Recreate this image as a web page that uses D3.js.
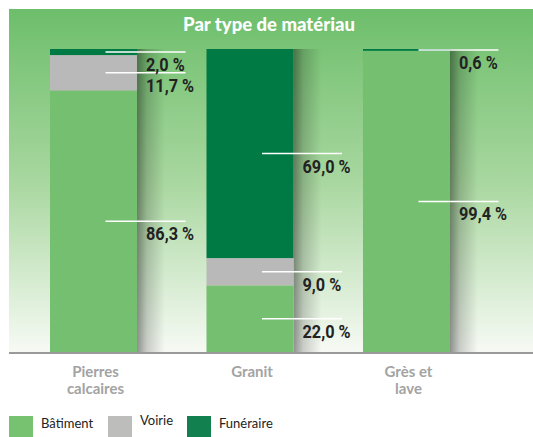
<!DOCTYPE html>
<html>
<head>
<meta charset="utf-8">
<script src="https://cdn.jsdelivr.net/npm/d3@7"></script>
<style>
  body { margin: 0; background: #fff; }
  .title { font-family: Lato, sans-serif; font-weight: 900; font-size: 18.5px; fill: #fff; }
  .cat { font-family: Lato, sans-serif; font-weight: 700; font-size: 15px; fill: #a3a3a3; }
  .val { font-family: Roboto, sans-serif; font-weight: 700; font-size: 18.5px; fill: #222; }
  .leg { font-family: Lato, sans-serif; font-size: 13px; fill: #222; }
</style>
</head>
<body>
<div id="chart"></div>
<script>
// data
const categories = ["Pierres calcaires", "Granit", "Grès et lave"];
const catLines = [["Pierres", "calcaires"], ["Granit"], ["Grès et", "lave"]];
const seriesNames = ["Bâtiment", "Voirie", "Funéraire"];
const batiment = [86.3, 22.0, 99.4];
const voirie = [11.7, 9.0, 0];
const funeraire = [2.0, 69.0, 0.6];

const colors = ["#74bf70", "#b8b9b8", "#007a45"];
const legendColors = ["#76c271", "#bdbdbc", "#138050"];

const W = 533, H = 437;
const svg = d3.select("#chart").append("svg")
  .attr("width", W).attr("height", H);

const defs = svg.append("defs");
const bg = defs.append("linearGradient").attr("id", "bg")
  .attr("x1", 0).attr("y1", 0).attr("x2", 0).attr("y2", 1);
bg.append("stop").attr("offset", "0%").attr("stop-color", "#6dbe6b");
bg.append("stop").attr("offset", "50%").attr("stop-color", "#a8d79f");
bg.append("stop").attr("offset", "100%").attr("stop-color", "#f7faf5");

const sh = defs.append("linearGradient").attr("id", "shadow")
  .attr("x1", 0).attr("y1", 0).attr("x2", 1).attr("y2", 0);
sh.append("stop").attr("offset", "0%").attr("stop-color", "#000").attr("stop-opacity", 0.42);
sh.append("stop").attr("offset", "35%").attr("stop-color", "#000").attr("stop-opacity", 0.18);
sh.append("stop").attr("offset", "100%").attr("stop-color", "#000").attr("stop-opacity", 0);

// panel
svg.append("rect")
  .attr("x", 9).attr("y", 9).attr("width", W - 9).attr("height", 344)
  .attr("fill", "url(#bg)");

svg.append("text").attr("class", "title")
  .attr("x", 269).attr("y", 31).attr("text-anchor", "middle")
  .text("Par type de matériau");

const x = d3.scaleBand().domain(categories).range([50, 450])
  .paddingInner(0.444).paddingOuter(0);
const y = d3.scaleLinear().domain([0, 100]).range([352, 49]);

// stack
const rows = categories.map((c, i) => ({
  cat: c, "Bâtiment": batiment[i], "Voirie": voirie[i], "Funéraire": funeraire[i]
}));
const stacked = d3.stack().keys(seriesNames)(rows);

// shadows to the right of each bar
svg.append("g").selectAll("rect").data(categories).join("rect")
  .attr("x", d => x(d) + x.bandwidth())
  .attr("y", y(100))
  .attr("width", 28)
  .attr("height", y(0) - y(100))
  .attr("fill", "url(#shadow)");

// bars
svg.append("g").selectAll("g").data(stacked).join("g")
  .attr("fill", (d, i) => colors[i])
  .selectAll("rect").data(d => d).join("rect")
    .attr("x", d => x(d.data.cat))
    .attr("y", d => y(d[1]))
    .attr("width", x.bandwidth())
    .attr("height", d => y(d[0]) - y(d[1]));

// baseline
svg.append("line")
  .attr("x1", 9).attr("x2", W).attr("y1", 353).attr("y2", 353)
  .attr("stroke", "#9a9a9a").attr("stroke-width", 2);

// value labels with white leader lines
const labels = [];
stacked.forEach(s => s.forEach(d => {
  const v = d[1] - d[0];
  if (v > 0) labels.push({ cat: d.data.cat, v: v, mid: (d[0] + d[1]) / 2 });
}));
const fmt = v => d3.format(".1f")(v).replace(".", ",") + " %";

const lg = svg.append("g");
lg.selectAll("line").data(labels).join("line")
  .attr("x1", d => x(d.cat) + x.bandwidth() / 2 + 12)
  .attr("x2", d => x(d.cat) + x.bandwidth() / 2 + 92)
  .attr("y1", d => y(d.mid)).attr("y2", d => y(d.mid))
  .attr("stroke", "#fff").attr("stroke-width", 1.5);
// condensed look: squeeze the bold glyphs a little
lg.selectAll("text").data(labels).join("text")
  .attr("class", "val")
  .attr("transform", d => `translate(${x(d.cat) + x.bandwidth() + 9},${y(d.mid) + 19}) scale(0.88,1)`)
  .text(d => fmt(d.v));

// category labels
svg.append("g").selectAll("text").data(categories).join("text")
  .attr("class", "cat")
  .attr("text-anchor", "middle")
  .attr("x", d => x(d) + x.bandwidth() / 2 + 2)
  .attr("y", 377)
  .selectAll("tspan").data((d, i) => catLines[i]).join("tspan")
    .attr("x", function() { return d3.select(this.parentNode).attr("x"); })
    .attr("dy", (d, j) => j === 0 ? 0 : 16.5)
    .text(d => d);

// legend
const legX = [9, 108, 187];
const leg = svg.append("g");
leg.selectAll("rect").data(seriesNames).join("rect")
  .attr("x", (d, i) => legX[i]).attr("y", 416)
  .attr("width", 24).attr("height", 21)
  .attr("fill", (d, i) => legendColors[i]);
leg.selectAll("text").data(seriesNames).join("text")
  .attr("class", "leg")
  .attr("x", (d, i) => legX[i] + 32)
  .attr("y", (d, i) => i === 1 ? 425 : 428)
  .text(d => d);
</script>
</body>
</html>
